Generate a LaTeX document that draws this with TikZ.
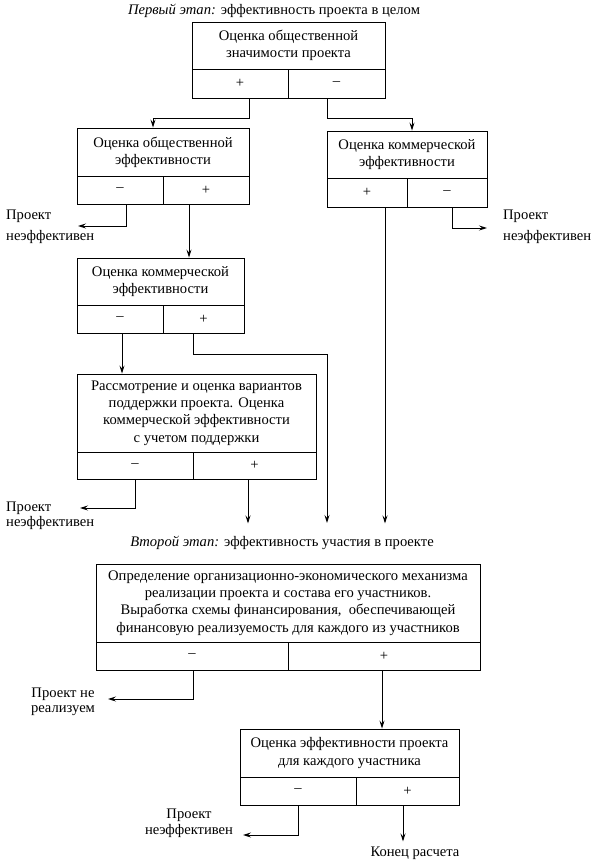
\documentclass[tikz,border=0pt]{standalone}
\usepackage{fontspec}
\setmainfont{Liberation Serif}
\usetikzlibrary{arrows.meta,calc}
\begin{document}
\begin{tikzpicture}[x=1pt,y=-1pt,
  every node/.style={font=\fontsize{14.6}{17.3}\selectfont, inner sep=0pt},
  cell/.style={draw, line width=0.9pt, align=center},
  arr/.style={line width=0.9pt, -{Stealth[length=8pt,width=5pt,inset=3pt]}}]
\useasboundingbox (0,0) rectangle (599,865);

% titles
\node (t1) at (274,11) {\textit{Первый этап:} эффективность проекта в целом};
\node (t2) at (282,543) {\textit{Второй этап:} эффективность участия в проекте};

% box 1
\node[cell, minimum width=193pt, minimum height=47pt] (b1) at (288.5,45.5) {Оценка общественной\\значимости проекта};
\node[cell, minimum width=96pt, minimum height=29pt] (b1p) at (240,83.5) {+};
\node[cell, minimum width=97pt, minimum height=29pt] (b1m) at (336.5,83.5) {–};

% box 2
\node[cell, minimum width=172pt, minimum height=48pt] (b2) at (163,152) {Оценка общественной\\эффективности};
\node[cell, minimum width=86pt, minimum height=28pt] (b2m) at (120,190) {–};
\node[cell, minimum width=86pt, minimum height=28pt] (b2p) at (206,190) {+};

% box 3
\node[cell, minimum width=160pt, minimum height=47pt] (b3) at (407,154.5) {Оценка коммерческой\\эффективности};
\node[cell, minimum width=80pt, minimum height=29pt] (b3p) at (367,192.5) {+};
\node[cell, minimum width=80pt, minimum height=29pt] (b3m) at (447,192.5) {–};

% box 4
\node[cell, minimum width=167pt, minimum height=47pt] (b4) at (160.5,281.5) {Оценка коммерческой\\эффективности};
\node[cell, minimum width=86pt, minimum height=28pt] (b4m) at (120,319) {–};
\node[cell, minimum width=81pt, minimum height=28pt] (b4p) at (203.5,319) {+};

% box 5
\node[cell, minimum width=239pt, minimum height=78pt] (b5) at (196.5,413) {Рассмотрение и оценка вариантов\\поддержки проекта. Оценка\\коммерческой эффективности\\с учетом поддержки};
\node[cell, minimum width=116pt, minimum height=27pt] (b5m) at (135,465.5) {–};
\node[cell, minimum width=123pt, minimum height=27pt] (b5p) at (254.5,465.5) {+};

% box 6
\node[cell, minimum width=384pt, minimum height=78pt] (b6) at (288,603) {Определение организационно-экономического механизма\\реализации проекта и состава его участников.\\Выработка схемы финансирования,\ \ обеспечивающей\\финансовую реализуемость для каждого из участников};
\node[cell, minimum width=192pt, minimum height=28pt] (b6m) at (192,656) {–};
\node[cell, minimum width=192pt, minimum height=28pt] (b6p) at (384,656) {+};

% box 7
\node[cell, minimum width=219pt, minimum height=48pt] (b7) at (349.5,753) {Оценка эффективности проекта\\для каждого участника};
\node[cell, minimum width=116pt, minimum height=28pt] (b7m) at (298,791) {–};
\node[cell, minimum width=103pt, minimum height=28pt] (b7p) at (407.5,791) {+};

% outcome labels
\node[align=left, anchor=west] (n1) at (6,227) {Проект\\[4pt]неэффективен};
\node[align=left, anchor=west] (n2) at (503,227) {Проект\\[4pt]неэффективен};
\node[align=left, anchor=west] (n3) at (6,515.5) {Проект\\[-2pt]неэффективен};
\node[align=center] (n4) at (63,701.5) {Проект не\\[-2pt]реализуем};
\node[align=center] (n5) at (189,823.5) {Проект\\[-1pt]неэффективен};
\node (n6) at (415,853) {Конец расчета};

% free ends
\coordinate (e1) at (78,226);
\coordinate (e2) at (487,228);
\coordinate (e3) at (327,523);
\coordinate (e4) at (80,508);
\coordinate (e5) at (108,699);
\coordinate (e6) at (243,835);

% connectors
\draw[arr] ([xshift=9pt]b1p.south) -- ++(0,20) -| ([xshift=-10pt]b2.north);
\draw[arr] ([xshift=-9.5pt]b1m.south) -- ++(0,20) -| ([xshift=5pt]b3.north);
\draw[arr] ([xshift=6pt]b2m.south) |- (e1);
\draw[arr] ([xshift=-17pt]b2p.south) -- ([xshift=-17pt]b2p.south |- b4.north);
\draw[arr] ([xshift=5pt]b3m.south) |- (e2);
\draw[arr] ([xshift=18pt]b3p.south) -- ++(0,316);
\draw[arr] ([xshift=2pt]b4m.south) -- ([xshift=2pt]b4m.south |- b5.north);
\draw[arr] ([xshift=-10.5pt]b4p.south) -- ++(0,21) -| (e3);
\draw[arr] (b5m.south) |- (e4);
\draw[arr] ([xshift=-6.5pt]b5p.south) -- ++(0,44);
\draw[arr] ([xshift=1pt]b6m.south) |- (e5);
\draw[arr] ([xshift=-2pt]b6p.south) -- ([xshift=-2pt]b6p.south |- b7.north);
\draw[arr] (b7m.south) |- (e6);
\draw[arr] ([xshift=-4.5pt]b7p.south) -- ++(0,36);
\end{tikzpicture}
\end{document}
